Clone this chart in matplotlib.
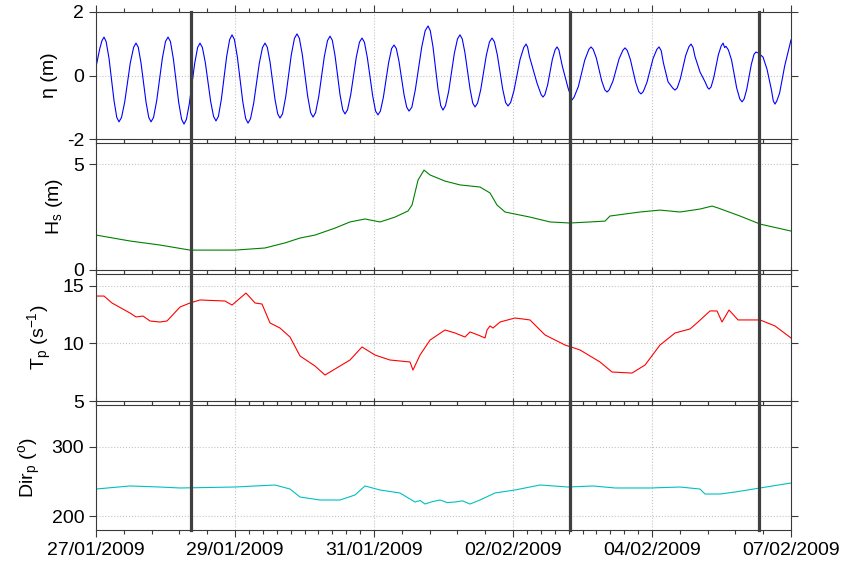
import numpy as np
import matplotlib
matplotlib.use("Agg")
import matplotlib.pyplot as plt
from matplotlib.ticker import FixedLocator

plt.rcParams["font.family"] = ["Liberation Sans", "DejaVu Sans"]
plt.rcParams["mathtext.fontset"] = "custom"
plt.rcParams["mathtext.rm"] = "Liberation Sans"
plt.rcParams["mathtext.it"] = "Liberation Sans"
plt.rcParams["mathtext.default"] = "regular"
plt.rcParams["axes.unicode_minus"] = False

# time axis: days since 27/01/2009 00:00
x_ticks = [0.0, 2.2, 4.4, 6.6, 8.8, 11.0]
x_tick_labels = ["27/01/2009", "29/01/2009", "31/01/2009",
                 "02/02/2009", "04/02/2009", "07/02/2009"]

# storm / survey markers
event_days = [1.5, 7.5, 10.5]

# water level (m)
eta_t = [0.000, 0.060, 0.095, 0.127, 0.160, 0.206, 0.285, 0.329, 0.364, 0.404,
         0.454, 0.543, 0.596, 0.633, 0.669, 0.712, 0.792, 0.835, 0.871, 0.911,
         0.961, 1.050, 1.100, 1.140, 1.178, 1.224, 1.309, 1.355, 1.393, 1.431,
         1.477, 1.562, 1.608, 1.646, 1.684, 1.730, 1.815, 1.861, 1.899, 1.937,
         1.984, 2.068, 2.115, 2.153, 2.191, 2.237, 2.322, 2.368, 2.406, 2.446,
         2.496, 2.585, 2.635, 2.675, 2.711, 2.754, 2.833, 2.876, 2.912, 2.952,
         3.002, 3.091, 3.141, 3.181, 3.219, 3.266, 3.350, 3.397, 3.435, 3.475,
         3.525, 3.614, 3.664, 3.704, 3.740, 3.783, 3.862, 3.905, 3.941, 3.981,
         4.031, 4.120, 4.170, 4.210, 4.248, 4.294, 4.379, 4.425, 4.463, 4.501,
         4.548, 4.632, 4.679, 4.717, 4.753, 4.796, 4.875, 4.918, 4.954, 4.999,
         5.054, 5.155, 5.210, 5.255, 5.291, 5.334, 5.413, 5.456, 5.492, 5.532,
         5.582, 5.671, 5.721, 5.761, 5.797, 5.840, 5.920, 5.963, 5.999, 6.039,
         6.089, 6.178, 6.228, 6.268, 6.306, 6.352, 6.437, 6.483, 6.521, 6.563,
         6.616, 6.711, 6.770, 6.806, 6.830, 6.860, 6.980, 7.045, 7.075, 7.105,
         7.149, 7.223, 7.267, 7.297, 7.327, 7.380, 7.471, 7.534, 7.565, 7.634,
         7.735, 7.800, 7.835, 7.870, 7.919, 8.004, 8.053, 8.088, 8.123, 8.183,
         8.278, 8.338, 8.373, 8.408, 8.457, 8.542, 8.591, 8.626, 8.661, 8.721,
         8.816, 8.876, 8.911, 8.946, 8.980, 9.054, 9.130, 9.164, 9.200, 9.249,
         9.333, 9.383, 9.418, 9.450, 9.480, 9.560, 9.640, 9.680, 9.703, 9.735,
         9.777, 9.851, 9.895, 9.925, 9.950, 9.970, 10.010, 10.060, 10.140, 10.190,
         10.225, 10.258, 10.299, 10.372, 10.415, 10.446, 10.490, 10.557, 10.620, 10.690,
         10.720, 10.747, 10.776, 10.820, 10.900, 11.000]
eta_v = [0.27, 0.85, 1.10, 1.21, 1.07, 0.54, -0.79, -1.32, -1.46, -1.32,
         -0.84, 0.40, 0.89, 1.02, 0.89, 0.40, -0.84, -1.32, -1.46, -1.32,
         -0.79, 0.54, 1.07, 1.21, 1.07, 0.53, -0.85, -1.38, -1.53, -1.38,
         -0.89, 0.38, 0.88, 1.02, 0.88, 0.41, -0.82, -1.29, -1.43, -1.29,
         -0.75, 0.60, 1.13, 1.28, 1.13, 0.59, -0.81, -1.35, -1.50, -1.36,
         -0.87, 0.39, 0.88, 1.02, 0.89, 0.43, -0.75, -1.21, -1.34, -1.21,
         -0.68, 0.65, 1.17, 1.31, 1.17, 0.65, -0.65, -1.17, -1.31, -1.17,
         -0.67, 0.60, 1.10, 1.24, 1.11, 0.63, -0.60, -1.08, -1.21, -1.08,
         -0.61, 0.58, 1.05, 1.18, 1.05, 0.57, -0.64, -1.12, -1.24, -1.12,
         -0.69, 0.41, 0.85, 0.96, 0.85, 0.44, -0.60, -1.00, -1.12, -1.00,
         -0.45, 0.89, 1.41, 1.56, 1.41, 0.90, -0.43, -0.95, -1.09, -0.95,
         -0.50, 0.69, 1.15, 1.28, 1.15, 0.71, -0.42, -0.87, -0.99, -0.87,
         -0.45, 0.64, 1.06, 1.18, 1.06, 0.65, -0.43, -0.85, -0.96, -0.85,
         -0.47, 0.50, 0.88, 0.99, 0.90, 0.60, -0.24, -0.60, -0.68, -0.60,
         -0.29, 0.51, 0.81, 0.90, 0.80, 0.30, -0.39, -0.77, -0.69, -0.35,
         0.48, 0.82, 0.90, 0.82, 0.55, -0.17, -0.45, -0.52, -0.45, -0.17,
         0.52, 0.79, 0.87, 0.79, 0.51, -0.22, -0.51, -0.58, -0.51, -0.21,
         0.53, 0.82, 0.90, 0.78, 0.40, -0.20, -0.40, -0.46, -0.39, -0.10,
         0.63, 0.90, 0.99, 0.88, 0.60, 0.11, -0.20, -0.38, -0.43, -0.36,
         -0.07, 0.66, 0.93, 1.02, 0.88, 0.92, 0.80, 0.48, -0.39, -0.74,
         -0.83, -0.74, -0.44, 0.35, 0.67, 0.74, 0.70, 0.58, 0.20, -0.45,
         -0.80, -0.90, -0.80, -0.55, 0.30, 1.12]

# significant wave height (m)
hs_t = [0.000, 0.538, 1.013, 1.488, 2.200, 2.675, 2.991, 3.229, 3.466, 3.783,
        4.020, 4.258, 4.495, 4.733, 4.939, 5.002, 5.097, 5.192, 5.287, 5.524,
        5.761, 6.078, 6.236, 6.347, 6.474, 6.869, 7.186, 7.502, 7.819, 8.056,
        8.135, 8.610, 8.927, 9.243, 9.560, 9.750, 9.845, 10.193, 10.510, 11.000]
hs_v = [1.65, 1.37, 1.18, 0.94, 0.94, 1.04, 1.28, 1.51, 1.65, 1.98,
        2.27, 2.41, 2.27, 2.50, 2.79, 3.07, 4.25, 4.72, 4.49, 4.20,
        4.02, 3.92, 3.64, 3.07, 2.74, 2.50, 2.27, 2.22, 2.27, 2.31,
        2.55, 2.74, 2.83, 2.74, 2.88, 3.02, 2.93, 2.55, 2.17, 1.84]

# peak period (s)
tp_t = [0.000, 0.127, 0.253, 0.538, 0.633, 0.744, 0.855, 1.013, 1.124, 1.330,
        1.488, 1.646, 2.042, 2.153, 2.374, 2.517, 2.627, 2.754, 2.912, 3.071,
        3.229, 3.466, 3.625, 3.862, 4.020, 4.210, 4.416, 4.653, 4.970, 5.017,
        5.128, 5.287, 5.524, 5.682, 5.840, 5.919, 6.046, 6.157, 6.189, 6.236,
        6.284, 6.394, 6.632, 6.869, 7.107, 7.423, 7.661, 7.977, 8.167, 8.484,
        8.690, 8.927, 9.164, 9.402, 9.528, 9.718, 9.829, 9.908, 10.019, 10.162,
        10.510, 10.747, 11.000]
tp_v = [14.09, 14.09, 13.49, 12.62, 12.28, 12.36, 11.93, 11.84, 11.93, 13.14,
        13.49, 13.75, 13.66, 13.31, 14.35, 13.49, 13.40, 11.76, 11.32, 10.54,
        8.90, 8.03, 7.25, 8.03, 8.55, 9.68, 8.98, 8.55, 8.38, 7.68,
        8.98, 10.28, 11.15, 10.89, 10.54, 10.98, 10.72, 10.46, 11.15, 11.50,
        11.32, 11.84, 12.19, 12.02, 10.72, 9.85, 9.42, 8.38, 7.51, 7.42,
        8.12, 9.85, 10.89, 11.24, 11.84, 12.80, 12.80, 11.84, 12.88, 12.02,
        12.02, 11.50, 10.46]

# peak direction (deg)
dir_t = [0.000, 0.538, 1.013, 1.330, 2.200, 2.833, 3.071, 3.229, 3.545, 3.862,
         4.099, 4.258, 4.495, 4.811, 5.049, 5.130, 5.207, 5.330, 5.445, 5.560,
         5.682, 5.800, 5.920, 6.078, 6.315, 6.632, 7.028, 7.471, 7.866, 8.215,
         8.769, 9.243, 9.560, 9.639, 9.877, 10.114, 10.510, 11.000]
dir_v = [239.0, 243.4, 241.9, 240.5, 241.9, 244.8, 239.0, 227.5, 223.2, 223.2,
         230.4, 243.4, 237.6, 233.3, 220.3, 222.5, 217.4, 221.0, 223.2, 219.5,
         220.3, 222.0, 217.4, 223.2, 233.3, 237.6, 244.8, 241.9, 243.4, 240.5,
         240.5, 241.9, 239.0, 231.8, 231.8, 234.7, 240.5, 247.7]

panels = [
    (eta_t, eta_v, "#0000ff", "\u03b7 (m)", (-2, 2), [-2, 0, 2]),
    (hs_t, hs_v, "#008000", "H$_s$ (m)", (0, 6), [0, 5]),
    (tp_t, tp_v, "#ff0000", "T$_p$ (s$^{-1}$)", (5, 16), [5, 10, 15]),
    (dir_t, dir_v, "#00c0c0", "Dir$_p$ ($^o$)", (180, 360), [200, 300]),
]

# irregular minor tick spacing along the time axis
minor_ticks = []
for i, n_sub in enumerate([5, 10, 5, 10, 5]):
    minor_ticks.extend(np.linspace(x_ticks[i], x_ticks[i + 1], n_sub + 1)[1:-1])

W, H = 843, 568
left_px, right_px = 96, 791
tops_px = [12, 143, 274, 405]
bottoms_px = [139, 270, 401, 530]

fig = plt.figure(figsize=(W / 100, H / 100), dpi=100)
for k, (t, v, color, label, ylim, yticks) in enumerate(panels):
    ax = fig.add_axes([left_px / W, 1 - bottoms_px[k] / H,
                       (right_px - left_px) / W, (bottoms_px[k] - tops_px[k]) / H])
    ax.plot(t, v, color=color, lw=0.8, zorder=2)
    ax.set_xlim(x_ticks[0], x_ticks[-1])
    ax.set_ylim(*ylim)
    ax.set_yticks(yticks)
    ax.set_xticks(x_ticks)
    ax.xaxis.set_minor_locator(FixedLocator(minor_ticks))
    ax.grid(True, which="major", color="#c4c4c4", linestyle=":", linewidth=0.8)
    ax.tick_params(which="both", direction="out", top=True, right=True,
                   labelsize=14, color="#3a3a3a", width=0.8)
    ax.tick_params(which="major", length=5)
    ax.tick_params(which="minor", length=2.6)
    for sp in ax.spines.values():
        sp.set_color("#3a3a3a")
        sp.set_linewidth(0.8)
    ax.set_ylabel(label, fontsize=14, labelpad=6)
    last = k == len(panels) - 1
    if last:
        ax.set_xticklabels(x_tick_labels)
    else:
        ax.tick_params(labelbottom=False)
    for d in event_days:
        ax.axvline(d, ymin=0 if last else -0.035, ymax=1, color="#404040",
                   lw=2.3, clip_on=False, zorder=3)

fig.savefig("out.png", dpi=100)
